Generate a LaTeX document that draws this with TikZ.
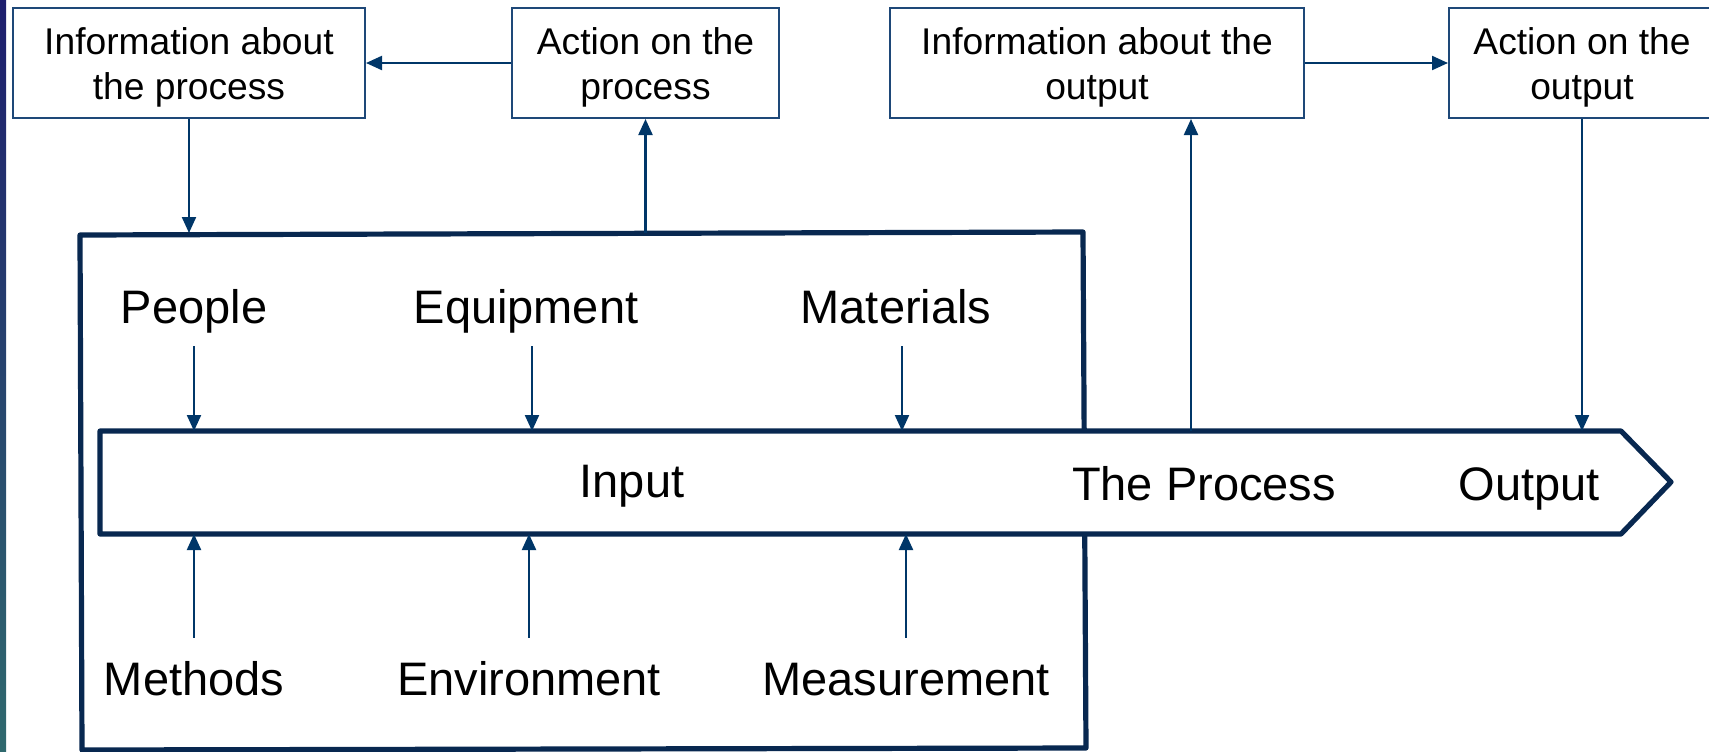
\documentclass[tikz,border=0pt]{standalone}
\usepackage{fontspec}
\setmainfont{Liberation Sans}
\usetikzlibrary{arrows.meta}
\definecolor{navy}{RGB}{8,40,80}
\definecolor{arrblue}{RGB}{0,54,104}
\definecolor{boxblue}{RGB}{30,72,120}
\definecolor{stripa}{RGB}{30,30,110}
\definecolor{stripb}{RGB}{47,105,110}
\tikzset{
  infobox/.style={draw=boxblue, line width=1pt, fill=white, align=center,
    minimum height=55pt, inner sep=2pt, text height=40.5pt,
    font=\fontsize{18.6}{22.5}\selectfont},
  biglab/.style={anchor=base, inner xsep=2pt, inner ysep=5.9pt,
    text height=17pt, text depth=5.5pt,
    font=\fontsize{23.5}{27}\selectfont},
  botlab/.style={biglab, inner ysep=11.5pt},
  arr/.style={draw=arrblue, line width=1.1pt,
    -{Triangle[length=8pt,width=7pt]}},
}
\begin{document}
\begin{tikzpicture}[x=0.5pt, y=-0.5pt]
  \useasboundingbox (0,0) rectangle (1709,751);
  \shade[top color=stripa, bottom color=stripb] (0,0) rectangle (6,751);

  % frame round the inputs
  \draw[navy, line width=2.6pt, line join=round]
    (1086,748) -- (82,750) -- (80,235) -- (1083,232) -- cycle;
  \coordinate (bbtop) at (0,233);

  % the process arrow
  \draw[navy, line width=2.6pt, line join=round, fill=white]
    (100,431) -- (1621,431) -- (1671,482) -- (1621,534) -- (100,534) -- cycle;
  \coordinate (ptop) at (0,431);
  \coordinate (pbot) at (0,534);
  \coordinate (pio) at (1191,431);

  % boxes on top
  \node[infobox, minimum width=176pt] (ip) at (189,63) {Information about\\the process};
  \node[infobox, minimum width=133.5pt] (ap) at (645.5,63) {Action on the\\process};
  \node[infobox, minimum width=207pt] (io) at (1097,63) {Information about the\\output};
  \node[infobox, minimum width=133pt] (ao) at (1582,63) {Action on the\\output};

  % inputs
  \node[biglab] (people) at (194,323) {People};
  \node[biglab] (equip) at (526,323) {Equipment};
  \node[biglab] (mater) at (896,323) {Materials};
  \node[botlab] (methods) at (194,695) {Methods};
  \node[botlab] (envir) at (529,695) {Environment};
  \node[botlab] (meas) at (906,695) {Measurement};

  \node[biglab] (input) at (632,497) {Input};
  \node[biglab] (proc) at (1204,500) {The Process};
  \node[biglab] (outp) at (1529,500) {Output};

  % connectors
  \draw[arr] (people.south) -- (people.south |- ptop);
  \draw[arr] ([xshift=3pt]equip.south) -- ([xshift=3pt]equip.south |- ptop);
  \draw[arr] ([xshift=3pt]mater.south) -- ([xshift=3pt]mater.south |- ptop);
  \draw[arr] (methods.north) -- (methods.north |- pbot);
  \draw[arr] (envir.north) -- (envir.north |- pbot);
  \draw[arr] (meas.north) -- (meas.north |- pbot);

  \draw[arr] (ip.south) -- (ip.south |- bbtop);
  \draw[arr] (ap.south |- bbtop) -- (ap.south);
  \draw[arr] (ap.west) -- (ip.east);
  \draw[arr] (io.east) -- (ao.west);
  \draw[arr] (pio) -- (pio |- io.south);
  \draw[arr] (ao.south) -- (ao.south |- ptop);
\end{tikzpicture}
\end{document}
